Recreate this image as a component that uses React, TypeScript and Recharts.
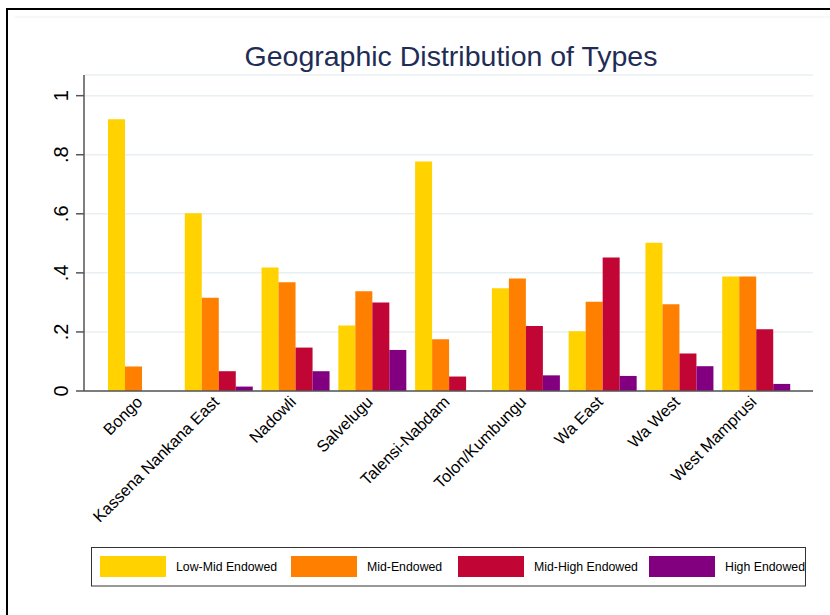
import React from "react";
import { BarChart, Bar, XAxis, YAxis, CartesianGrid } from "recharts";

// District names along the category axis
const districts = [
  "Bongo",
  "Kassena Nankana East",
  "Nadowli",
  "Salvelugu",
  "Talensi-Nabdam",
  "Tolon/Kumbungu",
  "Wa East",
  "Wa West",
  "West Mamprusi",
];

// Share of households of each type per district
const lowMid = [0.92, 0.602, 0.418, 0.222, 0.777, 0.348, 0.202, 0.502, 0.388];
const mid = [0.083, 0.316, 0.368, 0.338, 0.175, 0.381, 0.302, 0.294, 0.388];
const midHigh = [0, 0.067, 0.147, 0.3, 0.049, 0.22, 0.452, 0.127, 0.209];
const high = [0, 0.015, 0.067, 0.139, 0, 0.053, 0.051, 0.084, 0.024];

const yTicks = [0, 0.2, 0.4, 0.6, 0.8, 1];

const seriesKeys = ["lowMid", "mid", "midHigh", "high"];
const seriesNames = ["Low-Mid Endowed", "Mid-Endowed", "Mid-High Endowed", "High Endowed"];
const seriesColors = ["#FFD200", "#FF8000", "#C10534", "#820080"];

const data = districts.map((name, i) => ({
  name,
  lowMid: lowMid[i],
  mid: mid[i],
  midHigh: midHigh[i],
  high: high[i],
}));

const FONT = "'Liberation Sans', Arial, Helvetica, sans-serif";

const fmtY = (v: number) => (v === 0 ? "0" : v === 1 ? "1" : String(v).replace(/^0/, ""));

const YTick = (props: any) => {
  const { x, y, payload } = props;
  return (
    <text
      transform={`translate(${x + 1},${y}) rotate(-90)`}
      textAnchor="middle"
      fontSize={20}
      fontFamily={FONT}
      fill="#000"
    >
      {fmtY(payload.value)}
    </text>
  );
};

const XTick = (props: any) => {
  const { x, y, payload } = props;
  return (
    <text
      x={x + 2}
      y={y}
      transform={`rotate(-45, ${x + 2}, ${y})`}
      textAnchor="end"
      fontSize={16.3}
      fontFamily={FONT}
      fill="#000"
    >
      {payload.value}
    </text>
  );
};

// Legend entries: swatch + label, laid out left to right inside a framed box
const legendX = [100, 291, 458, 649];

export default function App() {
  return (
    <div style={{ position: "absolute", left: 0, top: 0, width: 830, height: 615, background: "#fff", overflow: "hidden" }}>
      <svg width={830} height={615} style={{ position: "absolute", left: 0, top: 0 }}>
        <path d="M7,620 V9 H835" fill="none" stroke="#000" strokeWidth={2} />
        <line x1={15} y1={17} x2={830} y2={17} stroke="#EEF1F3" strokeWidth={1} />
        <text
          x={451}
          y={66}
          textAnchor="middle"
          fontSize={28.5}
          fontFamily={FONT}
          fill="#1F2D56"
        >
          Geographic Distribution of Types
        </text>
        <rect x={91.5} y={547.5} width={714} height={38.5} fill="#fff" stroke="#333" strokeWidth={1} />
        {seriesNames.map((n, i) => (
          <g key={n}>
            <rect x={legendX[i]} y={556} width={66} height={21} fill={seriesColors[i]} />
            <text x={legendX[i] + 76} y={571} fontSize={12.3} fontFamily={FONT} fill="#000">
              {n}
            </text>
          </g>
        ))}
      </svg>
      <div style={{ position: "absolute", left: 0, top: 0 }}>
        <BarChart
          width={830}
          height={615}
          data={data}
          margin={{ top: 75, right: 17, bottom: 164, left: 0 }}
          barCategoryGap={5}
          barGap={0}
        >
          <CartesianGrid vertical={false} stroke="#E8F0F3" strokeWidth={1.5} />
          <YAxis
            width={84}
            domain={[0, 1.07]}
            ticks={yTicks}
            interval={0}
            allowDataOverflow
            tick={<YTick />}
            tickSize={8}
            tickMargin={9}
            axisLine={{ stroke: "#555", strokeWidth: 1.5 }}
            tickLine={{ stroke: "#555", strokeWidth: 1.5 }}
          />
          <XAxis
            dataKey="name"
            interval={0}
            height={60}
            padding={{ left: 19, right: 19 }}
            tick={<XTick />}
            tickLine={false}
            tickSize={0}
            tickMargin={12}
            axisLine={{ stroke: "#555", strokeWidth: 1.5 }}
          />
          {seriesKeys.map((k, i) => (
            <Bar
              key={k}
              dataKey={k}
              name={seriesNames[i]}
              fill={seriesColors[i]}
              isAnimationActive={false}
            />
          ))}
        </BarChart>
      </div>
    </div>
  );
}
